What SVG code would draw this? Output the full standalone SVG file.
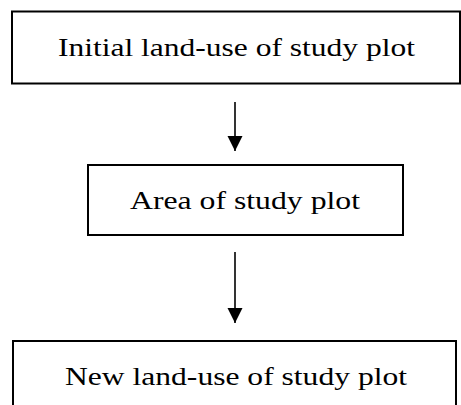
<svg xmlns="http://www.w3.org/2000/svg" width="461" height="405" viewBox="0 0 461 405">
<style>
.box{fill:#fff;stroke:#000;stroke-width:2}
.lbl{font-family:"Liberation Serif","DejaVu Serif",serif;font-size:24.5px;fill:#000}
.conn{stroke:#000;stroke-width:1.6;fill:none}
</style>
<defs>
<marker id="ah" markerUnits="userSpaceOnUse" markerWidth="16" markerHeight="16" refX="15" refY="7.5" orient="auto">
<path d="M0,0 L15,7.5 L0,15 Z" fill="#000"/>
</marker>
</defs>
<rect width="461" height="405" fill="#fff"/>
<g id="connectors">
<line class="conn" x1="235" y1="102" x2="235" y2="151" marker-end="url(#ah)"/>
<line class="conn" x1="235" y1="252" x2="235" y2="323" marker-end="url(#ah)"/>
</g>
<g id="node1">
<rect class="box" x="12" y="11.5" width="448" height="72"/>
<text class="lbl" x="58" y="56" textLength="357" lengthAdjust="spacingAndGlyphs">Initial land-use of study plot</text>
</g>
<g id="node2">
<rect class="box" x="88" y="165" width="315" height="70"/>
<text class="lbl" x="130" y="209" textLength="230" lengthAdjust="spacingAndGlyphs">Area of study plot</text>
</g>
<g id="node3">
<rect class="box" x="13" y="341" width="443" height="72"/>
<text class="lbl" x="65" y="385" textLength="342" lengthAdjust="spacingAndGlyphs">New land-use of study plot</text>
</g>
</svg>
